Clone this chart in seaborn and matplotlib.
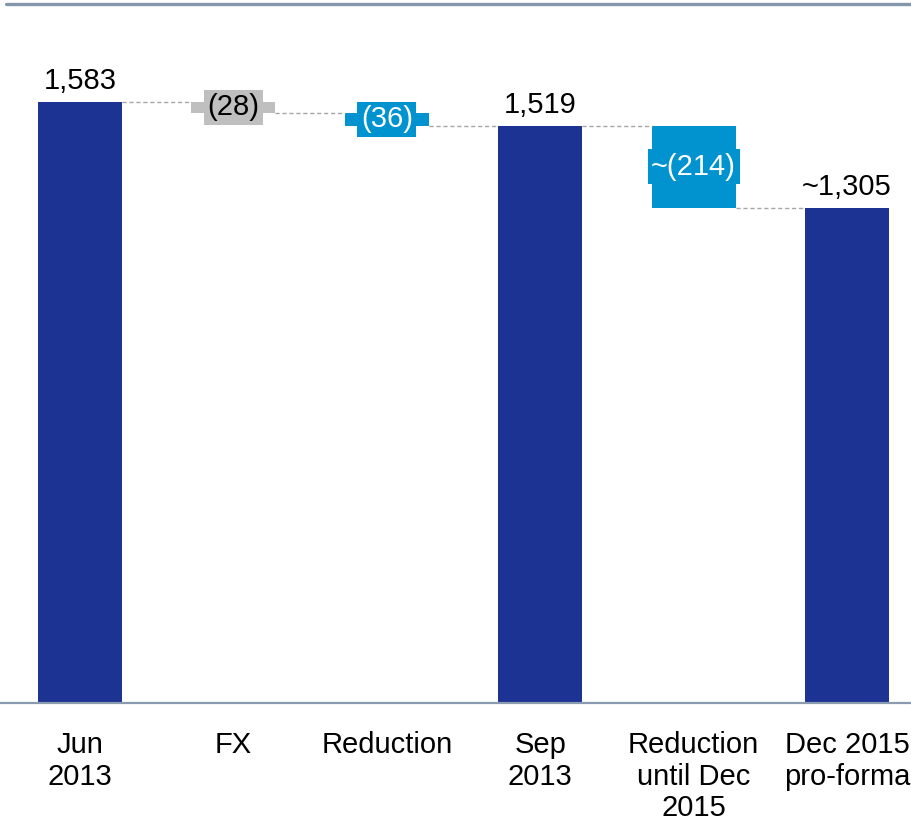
import matplotlib
matplotlib.use("Agg")
import matplotlib.pyplot as plt
from matplotlib.lines import Line2D
import seaborn as sns
import pandas as pd
import numpy as np

categories = ["Jun\n2013", "FX", "Reduction", "Sep\n2013",
              "Reduction\nuntil Dec\n2015", "Dec 2015\npro-forma"]
values = [1583, -28, -36, 1519, -214, 1305]
is_total = [True, False, False, True, False, True]
value_labels = ["1,583", "(28)", "(36)", "1,519", "~(214)", "~1,305"]

DARK = "#1C3393"
LIGHT = "#0093D0"
GRAY = "#BFBFBF"
bar_colors = [DARK, GRAY, LIGHT, DARK, LIGHT, DARK]
label_colors = ["black", "black", "white", "black", "white", "black"]

FS = 21

sns.set_theme(style="white")
plt.rcParams["font.family"] = ["Liberation Sans", "DejaVu Sans"]

fig = plt.figure(figsize=(9.12, 8.25), dpi=100)
ax = fig.add_axes([0.0, 1 - 703 / 825, 1.0, (703 - 4) / 825])

# running totals
bottoms, tops = [], []
running = 0
for v, t in zip(values, is_total):
    if t:
        bottoms.append(0)
        tops.append(v)
        running = v
    else:
        start = running
        running = start + v
        bottoms.append(min(start, running))
        tops.append(max(start, running))

heights = [tp - b for tp, b in zip(tops, bottoms)]
total_heights = [h if t else 0 for h, t in zip(heights, is_total)]
df = pd.DataFrame({"cat": categories, "h": total_heights})

width = 0.548
sns.barplot(data=df, x="cat", y="h", hue="cat", palette=bar_colors,
            legend=False, width=width, saturation=1, ax=ax, linewidth=0)

# floating bars
xs = np.arange(len(categories))
for i, (t, b, h) in enumerate(zip(is_total, bottoms, heights)):
    if not t:
        ax.bar(xs[i], h, bottom=b, width=width, color=bar_colors[i], linewidth=0)

# connectors
level = values[0]
for i in range(len(categories) - 1):
    if is_total[i]:
        level = values[i]
    else:
        level = level + values[i]
    ax.plot([xs[i] + width / 2, xs[i + 1] - width / 2], [level, level],
            ls=(0, (3, 2)), color="#A6A6A6", lw=1.0, zorder=1)

# labels
for i in range(len(categories)):
    if is_total[i]:
        ax.annotate(value_labels[i], (xs[i], tops[i]), xytext=(0, 5),
                    textcoords="offset points", ha="center", va="bottom",
                    fontsize=FS, color=label_colors[i])
    else:
        ax.text(xs[i], (tops[i] + bottoms[i]) / 2, value_labels[i],
                ha="center", va="center", fontsize=FS, color=label_colors[i],
                zorder=5,
                bbox=dict(boxstyle="square,pad=0.12", fc=bar_colors[i],
                          ec="none"))

ax.set_xlim(-80 / 153.4, (912 - 80) / 153.4)
ax.set_ylim(0, 1841)
ax.set_xlabel("")
ax.set_ylabel("")
ax.set_yticks([])
ax.set_xticks(xs)
ax.set_xticklabels(categories, fontsize=FS, linespacing=1.17, color="black")
ax.tick_params(axis="x", length=0, pad=20)
for s in ["top", "left", "right"]:
    ax.spines[s].set_visible(False)
ax.spines["bottom"].set_color("#8A9BB0")
ax.spines["bottom"].set_linewidth(1.6)
ax.patch.set_alpha(0)

fig.add_artist(Line2D([6 / 912, 1.0], [1 - 4 / 825, 1 - 4 / 825],
                      color="#8496A9", lw=2.4, transform=fig.transFigure))

fig.savefig("out.png", dpi=100)
